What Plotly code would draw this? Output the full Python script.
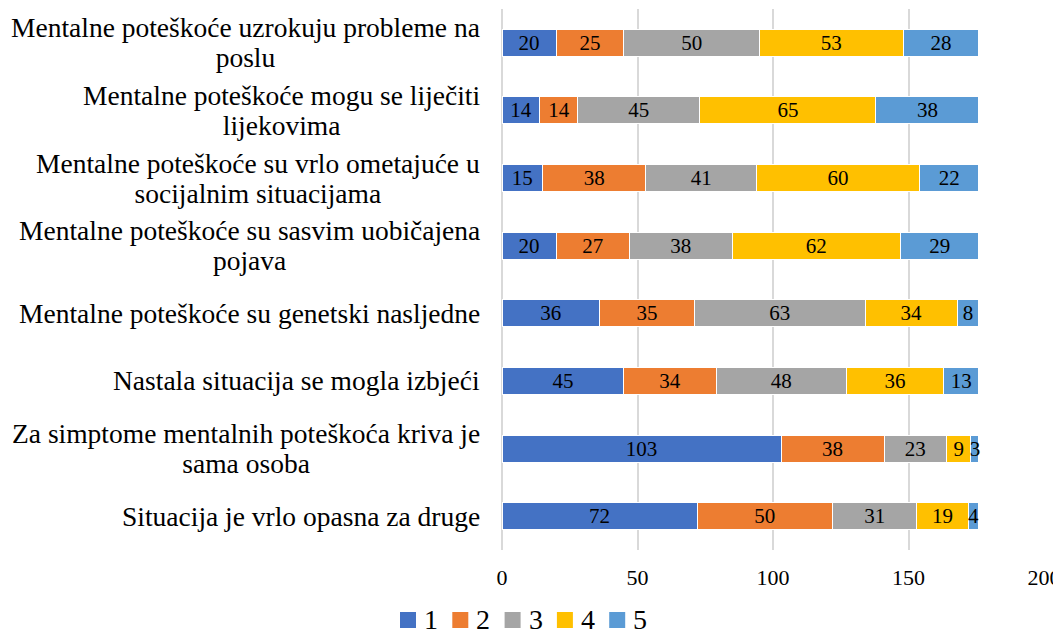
import plotly.graph_objects as go

categories = [
    "Mentalne poteškoće uzrokuju probleme na<br>poslu",
    "Mentalne poteškoće mogu se liječiti<br>lijekovima",
    "Mentalne poteškoće su vrlo ometajuće u<br>socijalnim situacijama",
    "Mentalne poteškoće su sasvim uobičajena<br>pojava",
    "Mentalne poteškoće su genetski nasljedne",
    "Nastala situacija se mogla izbjeći",
    "Za simptome mentalnih poteškoća kriva je<br>sama osoba",
    "Situacija je vrlo opasna za druge",
]
series_names = ["1", "2", "3", "4", "5"]
s1 = [20, 14, 15, 20, 36, 45, 103, 72]
s2 = [25, 14, 38, 27, 35, 34, 38, 50]
s3 = [50, 45, 41, 38, 63, 48, 23, 31]
s4 = [53, 65, 60, 62, 34, 36, 9, 19]
s5 = [28, 38, 22, 29, 8, 13, 3, 4]
series_values = [s1, s2, s3, s4, s5]
colors = ["#4472C4", "#ED7D31", "#A5A5A5", "#FFC000", "#5B9BD5"]
x_ticks = [0, 50, 100, 150, 200]

FONT = "Liberation Serif"
LABEL_SIZE = 27.5
LINE_GAP = 30

W, H = 1053, 623
ML, MR, MT, MB = 494, 17, 1, 81
PW, PH = W - ML - MR, H - MT - MB


def px_to_paper(fx, fy):
    return (fx - ML) / PW, (H - MB - fy) / PH


fig = go.Figure()
for name, vals, col in zip(series_names, series_values, colors):
    fig.add_trace(go.Bar(
        y=categories, x=vals, name=name, orientation="h",
        marker=dict(color=col, line=dict(color="white", width=1)),
        text=[str(v) for v in vals], textposition="inside",
        insidetextanchor="middle", textangle=0,
        textfont=dict(family=FONT, size=21, color="black"),
        hoverinfo="x+name", showlegend=False,
    ))

label_font = dict(family=FONT, size=LABEL_SIZE, color="black")
for c in categories:
    lines = c.split("<br>")
    if len(lines) == 1:
        fig.add_annotation(x=0, xref="paper", y=c, yref="y", text=c, showarrow=False,
                           xanchor="right", yanchor="middle", xshift=-20, font=label_font)
    else:
        first, second = lines
        fig.add_annotation(x=0, xref="paper", y=c, yref="y", text=first, showarrow=False,
                           xanchor="right", yanchor="middle", xshift=-20,
                           yshift=LINE_GAP / 2, font=label_font)
        natural = 1.3 * LABEL_SIZE
        fig.add_annotation(
            x=0, xref="paper", y=c, yref="y",
            text='<span style="color:rgba(0,0,0,0)">' + first + "</span><br>" + second,
            showarrow=False, xanchor="right", yanchor="middle", align="center",
            xshift=-20, yshift=natural / 2 - LINE_GAP / 2, font=label_font)

# legend (drawn as squares + labels, Excel style)
LEG_X0, LEG_STEP, SQ, LEG_Y = 392, 52.3, 16, 612
for i, (name, col) in enumerate(zip(series_names, colors)):
    x0, y0 = px_to_paper(LEG_X0 + i * LEG_STEP, LEG_Y + SQ / 2)
    x1, y1 = px_to_paper(LEG_X0 + i * LEG_STEP + SQ, LEG_Y - SQ / 2)
    fig.add_shape(type="rect", xref="paper", yref="paper", x0=x0, x1=x1, y0=y0, y1=y1,
                  fillcolor=col, line=dict(width=0), layer="above")
    tx, ty = px_to_paper(LEG_X0 + i * LEG_STEP + SQ + 6, LEG_Y - 1)
    fig.add_annotation(x=tx, y=ty, xref="paper", yref="paper", text=name, showarrow=False,
                       xanchor="left", yanchor="middle",
                       font=dict(family=FONT, size=28, color="black"))

fig.update_layout(
    barmode="stack", bargap=0.6,
    width=W, height=H,
    margin=dict(l=ML, r=MR, t=MT, b=MB, autoexpand=False),
    paper_bgcolor="white", plot_bgcolor="white",
    font=dict(family=FONT, color="black"),
    uniformtext=dict(minsize=21, mode="show"),
    showlegend=False,
)
fig.update_xaxes(range=[0, 200], tickvals=x_ticks, showgrid=True, gridcolor="#D9D9D9",
                 gridwidth=2, zeroline=True, zerolinecolor="#D9D9D9", zerolinewidth=2,
                 tickfont=dict(family=FONT, size=22), ticklabelstandoff=12, fixedrange=True,
                 automargin=False)
fig.update_yaxes(categoryorder="array", categoryarray=categories, autorange="reversed",
                 showticklabels=False, showgrid=False, fixedrange=True, automargin=False)

fig.write_html("out.html")
